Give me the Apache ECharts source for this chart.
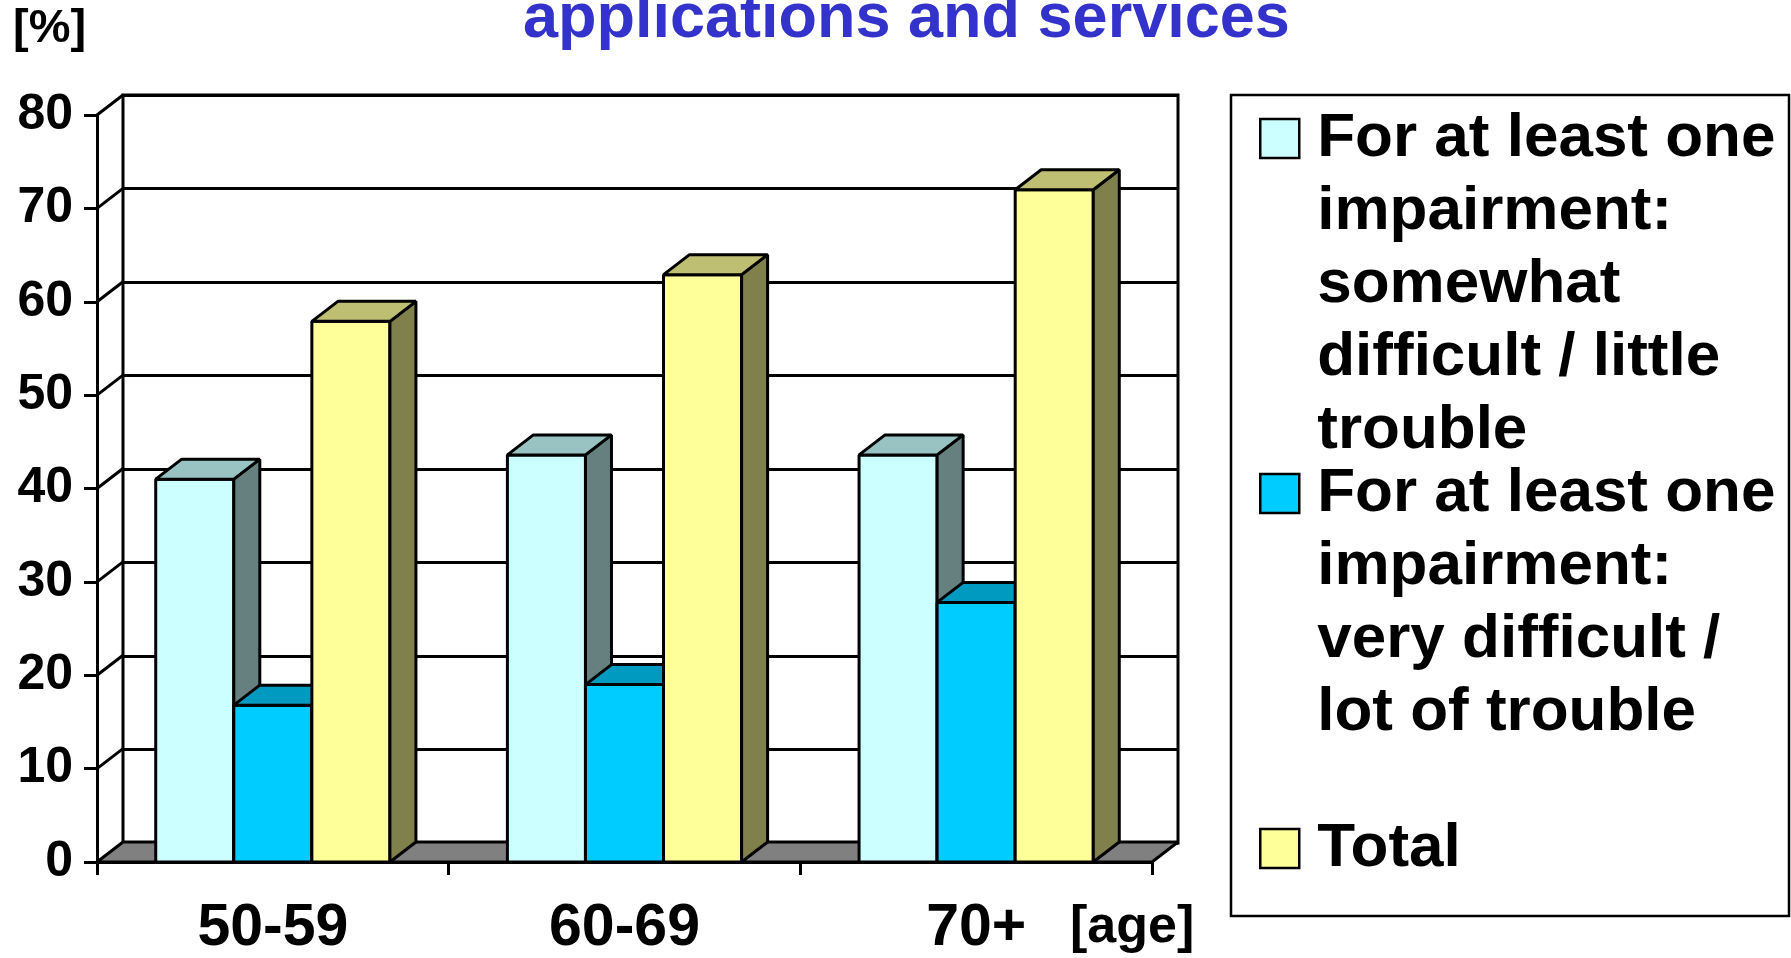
<!DOCTYPE html>
<html>
<head>
<meta charset="utf-8">
<title>applications and services</title>
<script src="https://cdn.jsdelivr.net/npm/echarts/dist/echarts.min.js"></script>
<style>
  html, body { margin: 0; padding: 0; background: #fff; }
  #MyChart { width: 1791px; height: 958px; }
</style>
</head>
<body>
<div id="MyChart"></div>
<script>
// data
var ageGroups = ['50-59', '60-69', '70+'];
var somewhatDifficult = [41, 43.6, 43.6];
var veryDifficult = [16.8, 19, 27.8];
var totalValues = [57.9, 62.9, 72];
var yTicks = [0, 10, 20, 30, 40, 50, 60, 70, 80];

var seriesNames = [
  'For at least one impairment: somewhat difficult / little trouble',
  'For at least one impairment: very difficult / lot of trouble',
  'Total'
];
// how the legend text wraps
var legendLines = [
  ['For at least one', 'impairment:', 'somewhat', 'difficult / little', 'trouble'],
  ['For at least one', 'impairment:', 'very difficult /', 'lot of trouble'],
  ['Total']
];

// 3d look: depth offset of the box
var DX = 26, DY = 20;
var BAR_RATIO = 0.222; // bar width / category width
var LW = 3;
var FONT = "'Liberation Sans', Arial, sans-serif";
var LEGEND_ROWS = 9; // every legend item is padded to this many rows so the swatch sits on the first line

var faceColors = [
  { front: '#CCFFFF', top: '#99C2C2', side: '#668080' },
  { front: '#00CCFF', top: '#0099BF', side: '#006680' },
  { front: '#FFFF99', top: '#BFBF73', side: '#80804D' }
];

var front = { left: 97, right: 639, top: 115, bottom: 95 };

function edge() {
  return { stroke: '#000', lineWidth: LW, lineJoin: 'bevel' };
}

function legendLabel(name) {
  var lines = legendLines[seriesNames.indexOf(name)];
  // blank rows above so that the block's middle is the first text line
  var above = (LEGEND_ROWS - 1) / 2;
  var below = above - (lines.length - 1);
  var out = [];
  for (var i = 0; i < above; i++) out.push('');
  out = out.concat(lines);
  for (var j = 0; j < below; j++) out.push('');
  return out.join('\n');
}

function barRenderer(idx) {
  var c = faceColors[idx];
  return function (params, api) {
    var cat = api.value(0);
    var base = api.coord([cat, 0]);
    var top = api.coord([cat, api.value(1)]);
    var bw = api.size([1, 0])[0] * BAR_RATIO;
    var x0 = base[0] + (idx - 1.5) * bw;
    var x1 = x0 + bw;
    var yb = base[1], yt = top[1];
    return {
      type: 'group',
      children: [
        { type: 'polygon', shape: { points: [[x0, yt], [x1, yt], [x1, yb], [x0, yb]] },
          style: Object.assign({ fill: c.front }, edge()) },
        { type: 'polygon', shape: { points: [[x1, yt], [x1 + DX, yt - DY], [x1 + DX, yb - DY], [x1, yb]] },
          style: Object.assign({ fill: c.side }, edge()) },
        { type: 'polygon', shape: { points: [[x0, yt], [x0 + DX, yt - DY], [x1 + DX, yt - DY], [x1, yt]] },
          style: Object.assign({ fill: c.top }, edge()) }
      ]
    };
  };
}

function toData(values) {
  var out = [];
  for (var i = 0; i < values.length; i++) out.push([i, values[i]]);
  return out;
}

var wallData = [];
for (var i = 0; i < yTicks.length; i++) {
  if (yTicks[i] > 0) wallData.push([0, yTicks[i]]);
}

var myChart = echarts.init(document.getElementById('MyChart'));
var option = {
  backgroundColor: '#fff',
  animation: false,
  title: {
    text: 'applications and services',
    left: 523,
    top: -12,
    padding: 0,
    textStyle: { color: '#3333CC', fontSize: 63, fontWeight: 'bold', fontFamily: FONT }
  },
  graphic: [
    { type: 'text', x: 13, y: 29,
      style: { text: '[%]', fontSize: 47, fontWeight: 'bold', fontFamily: FONT, fill: '#000', verticalAlign: 'middle' } },
    { type: 'text', x: 1070, y: 928,
      style: { text: '[age]', fontSize: 52, fontWeight: 'bold', fontFamily: FONT, fill: '#000', verticalAlign: 'middle' } },
    { type: 'rect', shape: { x: 1231, y: 95, width: 558, height: 821 },
      style: { fill: 'none', stroke: '#000', lineWidth: 2.5 } }
  ],
  legend: {
    data: seriesNames,
    orient: 'vertical',
    left: 1259,
    top: 138.5 - LEGEND_ROWS * 73 / 2,
    height: 3000,
    padding: 0,
    itemGap: 355 - LEGEND_ROWS * 73,
    itemWidth: 39,
    itemHeight: 39,
    icon: 'rect',
    selectedMode: false,
    itemStyle: { borderColor: '#000', borderWidth: 2.5 },
    formatter: legendLabel,
    textStyle: {
      color: '#000', fontSize: 62, fontWeight: 'bold', fontFamily: FONT,
      lineHeight: 73, padding: [0, 0, 0, 13]
    }
  },
  grid: [
    { left: front.left, right: front.right, top: front.top, bottom: front.bottom },
    { left: front.left + DX, right: front.right - DX, top: front.top - DY, bottom: front.bottom + DY,
      show: true, borderColor: '#000', borderWidth: LW, backgroundColor: 'transparent' }
  ],
  xAxis: [
    {
      type: 'category', gridIndex: 0, data: ageGroups,
      axisLine: { lineStyle: { color: '#000', width: LW } },
      axisTick: { show: true, length: 13, lineStyle: { color: '#000', width: LW } },
      axisLabel: { color: '#000', fontSize: 59, fontWeight: 'bold', fontFamily: FONT, margin: 37 },
      splitLine: { show: false }
    },
    { type: 'value', gridIndex: 1, min: 0, max: 1, show: false }
  ],
  yAxis: [
    {
      type: 'value', gridIndex: 0, min: 0, max: 80, interval: 10,
      axisLine: { show: true, lineStyle: { color: '#000', width: LW } },
      axisTick: { show: true, length: 13, lineStyle: { color: '#000', width: LW } },
      axisLabel: { color: '#000', fontSize: 50, fontWeight: 'bold', fontFamily: FONT, margin: 24 },
      splitLine: { show: false }
    },
    {
      type: 'value', gridIndex: 1, min: 0, max: 80, interval: 10,
      axisLine: { show: false }, axisTick: { show: false }, axisLabel: { show: false },
      splitLine: { show: true, lineStyle: { color: '#000', width: LW } }
    }
  ],
  series: [
    {
      // floor
      type: 'custom', xAxisIndex: 0, yAxisIndex: 0, silent: true,
      data: [[0, 0]],
      encode: { x: 0, y: 1 },
      renderItem: function (params, api) {
        var cs = params.coordSys;
        var y0 = api.coord([0, 0])[1];
        var x0 = cs.x, x1 = cs.x + cs.width;
        return {
          type: 'polygon',
          shape: { points: [[x0, y0], [x1, y0], [x1 + DX, y0 - DY], [x0 + DX, y0 - DY]] },
          style: Object.assign({ fill: '#808080' }, edge())
        };
      }
    },
    {
      // side wall lines from the front ticks to the back wall
      type: 'custom', xAxisIndex: 0, yAxisIndex: 0, silent: true,
      data: wallData,
      encode: { x: 0, y: 1 },
      renderItem: function (params, api) {
        var x0 = params.coordSys.x;
        var y = api.coord([0, api.value(1)])[1];
        return {
          type: 'line',
          shape: { x1: x0, y1: y, x2: x0 + DX, y2: y - DY },
          style: { stroke: '#000', lineWidth: LW }
        };
      }
    },
    {
      name: seriesNames[0], type: 'custom', xAxisIndex: 0, yAxisIndex: 0,
      itemStyle: { color: faceColors[0].front },
      data: toData(somewhatDifficult), encode: { x: 0, y: 1 },
      renderItem: barRenderer(0)
    },
    {
      name: seriesNames[1], type: 'custom', xAxisIndex: 0, yAxisIndex: 0,
      itemStyle: { color: faceColors[1].front },
      data: toData(veryDifficult), encode: { x: 0, y: 1 },
      renderItem: barRenderer(1)
    },
    {
      name: seriesNames[2], type: 'custom', xAxisIndex: 0, yAxisIndex: 0,
      itemStyle: { color: faceColors[2].front },
      data: toData(totalValues), encode: { x: 0, y: 1 },
      renderItem: barRenderer(2)
    }
  ]
};
myChart.setOption(option);
</script>
</body>
</html>
